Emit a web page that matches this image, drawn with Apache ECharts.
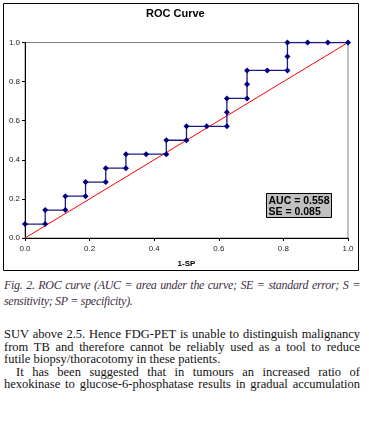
<!DOCTYPE html>
<html>
<head>
<meta charset="utf-8">
<script src="https://cdn.jsdelivr.net/npm/echarts@6/dist/echarts.min.js"></script>
<style>
  html, body { margin: 0; padding: 0; background: #fff; }
  #chart { position: absolute; left: 0; top: 0; width: 369px; height: 275px; }
  .txt { position: absolute; left: 4px; width: 356px; font-family: "Liberation Serif", serif; white-space: nowrap; line-height: 16px; height: 16px; }
  .full { text-align: justify; text-align-last: justify; }
  .cap { font-style: italic; font-size: 12px; color: #3f2f44; letter-spacing: -0.3px; }
  .body { font-size: 12.5px; color: #111; }
</style>
</head>
<body>
<div id="chart"></div>
<div class="txt cap full" style="top:277px">Fig. 2. ROC curve (AUC = area under the curve; SE = standard error; S =</div>
<div class="txt cap" style="top:293px">sensitivity; SP = specificity).</div>
<div class="txt body full" style="top:326px">SUV above 2.5. Hence FDG-PET is unable to distinguish malignancy</div>
<div class="txt body full" style="top:338.5px">from TB and therefore cannot be reliably used as a tool to reduce</div>
<div class="txt body" style="top:351px">futile biopsy/thoracotomy in these patients.</div>
<div class="txt body full" style="top:363.5px;left:16px;width:344px">It has been suggested that in tumours an increased ratio of</div>
<div class="txt body full" style="top:376px">hexokinase to glucose-6-phosphatase results in gradual accumulation</div>
<script>
// 1 - specificity (x) and sensitivity (y)
const oneMinusSp = [0, 0.0625, 0.0625, 0.125, 0.125, 0.1875, 0.1875, 0.25, 0.25, 0.3125, 0.3125, 0.375, 0.4375, 0.4375, 0.5, 0.5,
  0.5625, 0.625, 0.625, 0.625, 0.6875, 0.6875, 0.6875, 0.75, 0.8125, 0.8125, 0.8125, 0.875, 0.9375, 1];
const sens = [0.071, 0.071, 0.143, 0.143, 0.214, 0.214, 0.286, 0.286, 0.357, 0.357, 0.429, 0.429, 0.429, 0.5, 0.5, 0.571,
  0.571, 0.571, 0.643, 0.714, 0.714, 0.786, 0.857, 0.857, 0.857, 0.929, 1, 1, 1, 1];
const refX = [0, 1];
const refY = [0, 1];
const stats = ['AUC = 0.558', 'SE = 0.085'];

const chart = echarts.init(document.getElementById('chart'));
const axisFont = {fontFamily: 'Liberation Sans, Arial', fontSize: 8, color: '#222'};

chart.setOption({
  animation: false,
  title: {
    text: 'ROC Curve', left: 146, top: 8, padding: 0,
    textStyle: {fontFamily: 'Liberation Sans, Arial', fontSize: 11, fontWeight: 'bold', color: '#000'}
  },
  grid: {left: 25, right: 21, top: 42.5, bottom: 37, show: true, borderColor: '#808080', borderWidth: 1},
  xAxis: {
    type: 'value', min: 0, max: 1, interval: 0.2,
    name: '1-SP', nameLocation: 'middle', nameGap: 22,
    nameTextStyle: {fontFamily: 'Liberation Sans, Arial', fontSize: 8, fontWeight: 'bold', color: '#000'},
    axisLine: {lineStyle: {color: '#000', width: 1}},
    axisTick: {show: true, length: 3, lineStyle: {color: '#000'}},
    axisLabel: Object.assign({margin: 7, formatter: v => v.toFixed(1)}, axisFont),
    splitLine: {show: false}
  },
  yAxis: {
    type: 'value', min: 0, max: 1, interval: 0.2,
    axisLine: {show: true, lineStyle: {color: '#000', width: 1}},
    axisTick: {show: true, length: 3, lineStyle: {color: '#000'}},
    axisLabel: Object.assign({margin: 5, formatter: v => v.toFixed(1)}, axisFont),
    splitLine: {show: false}
  },
  graphic: [
    {type: 'rect', shape: {x: 3.5, y: 3.5, width: 355, height: 267}, style: {fill: 'none', stroke: '#000', lineWidth: 1}, silent: true, z: -1},
    {type: 'rect', shape: {x: 266.5, y: 193.5, width: 65, height: 24}, style: {fill: '#c0c0c0', stroke: '#000', lineWidth: 1}, z: 10},
    {type: 'text', left: 268.5, top: 195, z: 11,
      style: {text: stats.join('\n'), font: 'bold 10.5px "Liberation Sans", Arial', fill: '#000', lineHeight: 11.5}}
  ],
  series: [
    {
      type: 'line', data: refX.map((x, i) => [x, refY[i]]),
      symbol: 'none', lineStyle: {color: '#ff0000', width: 1}, z: 2
    },
    {
      type: 'line', data: oneMinusSp.map((x, i) => [x, sens[i]]),
      symbol: 'diamond', symbolSize: 6,
      itemStyle: {color: '#000080'},
      lineStyle: {color: '#1c1c80', width: 1.3}, z: 3
    }
  ]
});
</script>
</body>
</html>
